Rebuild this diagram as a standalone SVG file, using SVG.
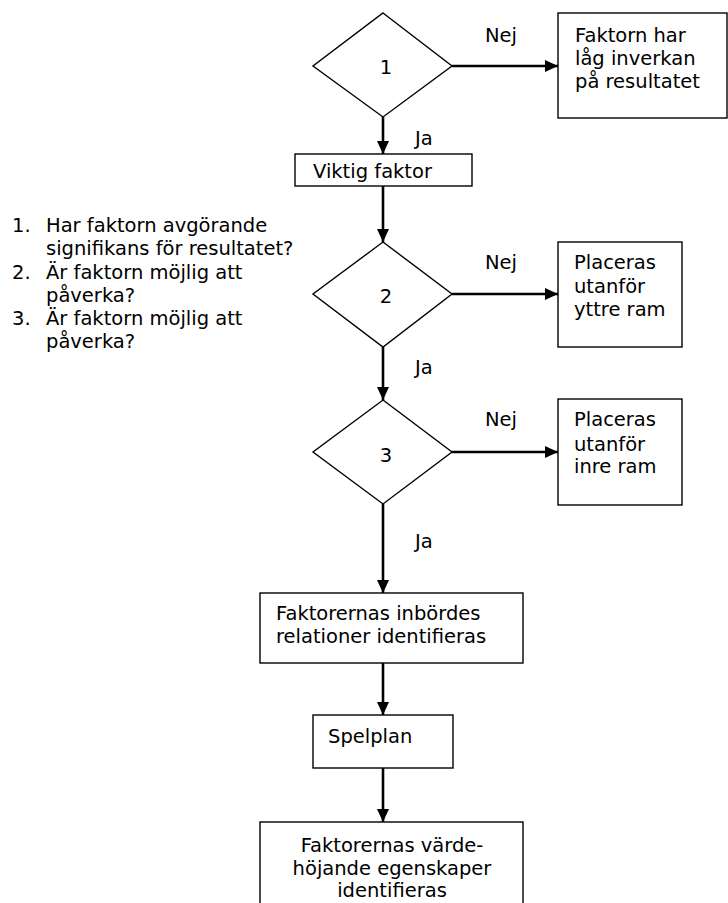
<svg xmlns="http://www.w3.org/2000/svg" width="728" height="903" viewBox="0 0 728 903">
  <style>
    text { font-family: "DejaVu Sans", Verdana, "Liberation Sans", sans-serif; font-size: 19.5px; fill: #000; }
    .shape { fill: #fff; stroke: #000; stroke-width: 1.4; }
    .flow { fill: none; stroke: #000; stroke-width: 2.6; }
    .mid { text-anchor: middle; }
  </style>
  <defs>
    <marker id="arrow" viewBox="0 0 13 12" refX="13" refY="6" markerWidth="13" markerHeight="12" markerUnits="userSpaceOnUse" orient="auto">
      <path d="M0,0 L13,6 L0,12 Z" fill="#000"/>
    </marker>
  </defs>

  <rect width="728" height="903" fill="#fff"/>

  <!-- question list -->
  <g id="questions">
    <text x="12" y="232">1.</text>
    <text x="46" y="232">Har faktorn avgörande</text>
    <text x="46" y="255">signifikans för resultatet?</text>
    <text x="12" y="279">2.</text>
    <text x="46" y="279">Är faktorn möjlig att</text>
    <text x="46" y="302">påverka?</text>
    <text x="12" y="325">3.</text>
    <text x="46" y="325">Är faktorn möjlig att</text>
    <text x="46" y="348">påverka?</text>
  </g>

  <!-- connectors -->
  <g id="connectors">
    <line class="flow" x1="452" y1="66" x2="558" y2="66" marker-end="url(#arrow)"/>
    <line class="flow" x1="383" y1="117" x2="383" y2="154" marker-end="url(#arrow)"/>
    <line class="flow" x1="383" y1="186" x2="383" y2="242" marker-end="url(#arrow)"/>
    <line class="flow" x1="452" y1="294" x2="558" y2="294" marker-end="url(#arrow)"/>
    <line class="flow" x1="383" y1="347" x2="383" y2="400" marker-end="url(#arrow)"/>
    <line class="flow" x1="452" y1="452" x2="558" y2="452" marker-end="url(#arrow)"/>
    <line class="flow" x1="383" y1="504" x2="383" y2="593" marker-end="url(#arrow)"/>
    <line class="flow" x1="383" y1="663" x2="383" y2="715" marker-end="url(#arrow)"/>
    <line class="flow" x1="383" y1="768" x2="383" y2="822" marker-end="url(#arrow)"/>
    <text x="485" y="42">Nej</text>
    <text x="415" y="145">Ja</text>
    <text x="485" y="269">Nej</text>
    <text x="415" y="374">Ja</text>
    <text x="485" y="426">Nej</text>
    <text x="415" y="548">Ja</text>
  </g>

  <g id="decision1">
    <polygon class="shape" points="383,13 452,66 383,117 313,66"/>
    <text class="mid" x="386" y="74">1</text>
  </g>
  <g id="low-impact">
    <rect class="shape" x="558" y="13" width="169" height="105"/>
    <text x="575" y="42">Faktorn har</text>
    <text x="575" y="65">låg inverkan</text>
    <text x="575" y="88">på resultatet</text>
  </g>
  <g id="important">
    <rect class="shape" x="295" y="154" width="177" height="32"/>
    <text x="313" y="178">Viktig faktor</text>
  </g>

  <g id="decision2">
    <polygon class="shape" points="383,242 452,294 383,347 313,294"/>
    <text class="mid" x="386" y="303">2</text>
  </g>
  <g id="outside-outer">
    <rect class="shape" x="558" y="242" width="124" height="105"/>
    <text x="574" y="269">Placeras</text>
    <text x="574" y="293">utanför</text>
    <text x="574" y="316">yttre ram</text>
  </g>

  <g id="decision3">
    <polygon class="shape" points="383,400 452,452 383,504 313,452"/>
    <text class="mid" x="386" y="462">3</text>
  </g>
  <g id="outside-inner">
    <rect class="shape" x="558" y="399" width="124" height="106"/>
    <text x="574" y="426">Placeras</text>
    <text x="574" y="451">utanför</text>
    <text x="574" y="473">inre ram</text>
  </g>

  <g id="relations">
    <rect class="shape" x="260" y="593" width="263" height="70"/>
    <text x="276" y="620">Faktorernas inbördes</text>
    <text x="276" y="643">relationer identifieras</text>
  </g>
  <g id="playing-field">
    <rect class="shape" x="313" y="715" width="140" height="53"/>
    <text x="328" y="743">Spelplan</text>
  </g>
  <g id="value-adding">
    <rect class="shape" x="260" y="822" width="263" height="100"/>
    <text class="mid" x="392" y="852">Faktorernas värde-</text>
    <text class="mid" x="392" y="875">höjande egenskaper</text>
    <text class="mid" x="392" y="897">identifieras</text>
  </g>
</svg>
